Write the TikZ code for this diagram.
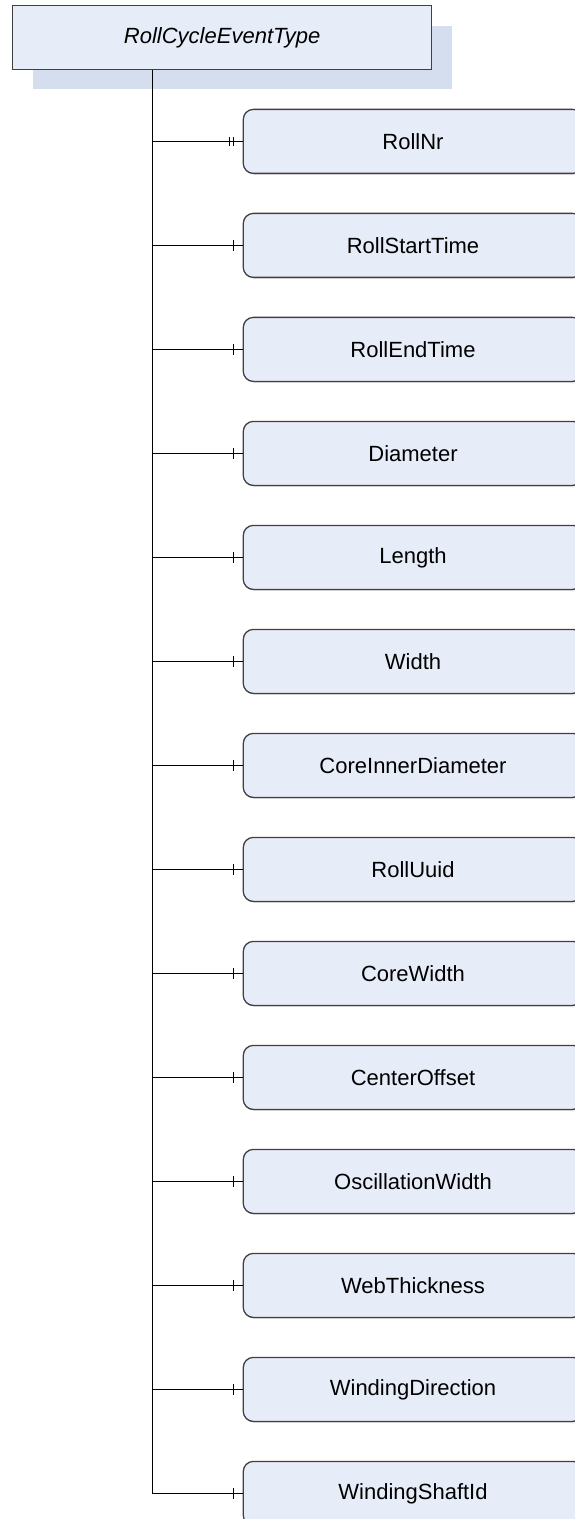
\documentclass[tikz,border=0pt]{standalone}
\usepackage{fontspec}
\setmainfont{Liberation Sans}
\usetikzlibrary{shadows,decorations.markings}

\definecolor{boxfill}{RGB}{231,237,248}
\definecolor{shadowfill}{RGB}{212,222,239}
\definecolor{boxline}{RGB}{64,64,64}

\begin{document}
\begin{tikzpicture}[x=0.5pt,y=-0.5pt]

	\tikzstyle type box=[draw=boxline, fill=boxfill, line width=0.65pt, minimum width=209.5pt, minimum height=31.9pt, general shadow={shadow xshift=10pt, shadow yshift=-10pt, fill=shadowfill}, font=\fontsize{11}{13}\selectfont\itshape];
	\tikzstyle element box=[draw=boxline, fill=boxfill, line width=0.65pt, rounded corners=5pt, minimum width=169.7pt, minimum height=32pt, general shadow={shadow xshift=0.5pt, shadow yshift=-0.5pt, fill=black!30}, font=\fontsize{11}{13}\selectfont];
	\tikzstyle link lines=[line width=0.5pt];
	\tikzstyle one tick=[postaction={decorate}, decoration={markings, mark=at position -4.6pt with {\draw[link lines] (0,-2.6pt) -- (0,2.6pt);}}];
	\tikzstyle two ticks=[postaction={decorate}, decoration={markings, mark=at position -4.8pt with {\draw[link lines] (0,-2.3pt) -- (0,2.3pt);}, mark=at position -6.8pt with {\draw[link lines] (0,-2.3pt) -- (0,2.3pt);}}];

	\useasboundingbox (0,0) rectangle (574,1519);

	\node[type box] (root) at (222.2,37.6) {RollCycleEventType};
	\coordinate (trunk) at (152.3,0);

	\foreach \label [count=\i from 0] in {RollNr,RollStartTime,RollEndTime,Diameter,Length,Width,CoreInnerDiameter,RollUuid,CoreWidth,CenterOffset,OscillationWidth,WebThickness,WindingDirection,WindingShaftId}
		\node[element box] (el\i) at (413,141.4+104*\i) {\label};

	\draw[link lines] (trunk |- root.south) -- (trunk |- el13.west);
	\draw[link lines, two ticks] (trunk |- el0.west) -- (el0.west);
	\foreach \i in {1,...,13}
		\draw[link lines, one tick] (trunk |- el\i.west) -- (el\i.west);

\end{tikzpicture}
\end{document}
